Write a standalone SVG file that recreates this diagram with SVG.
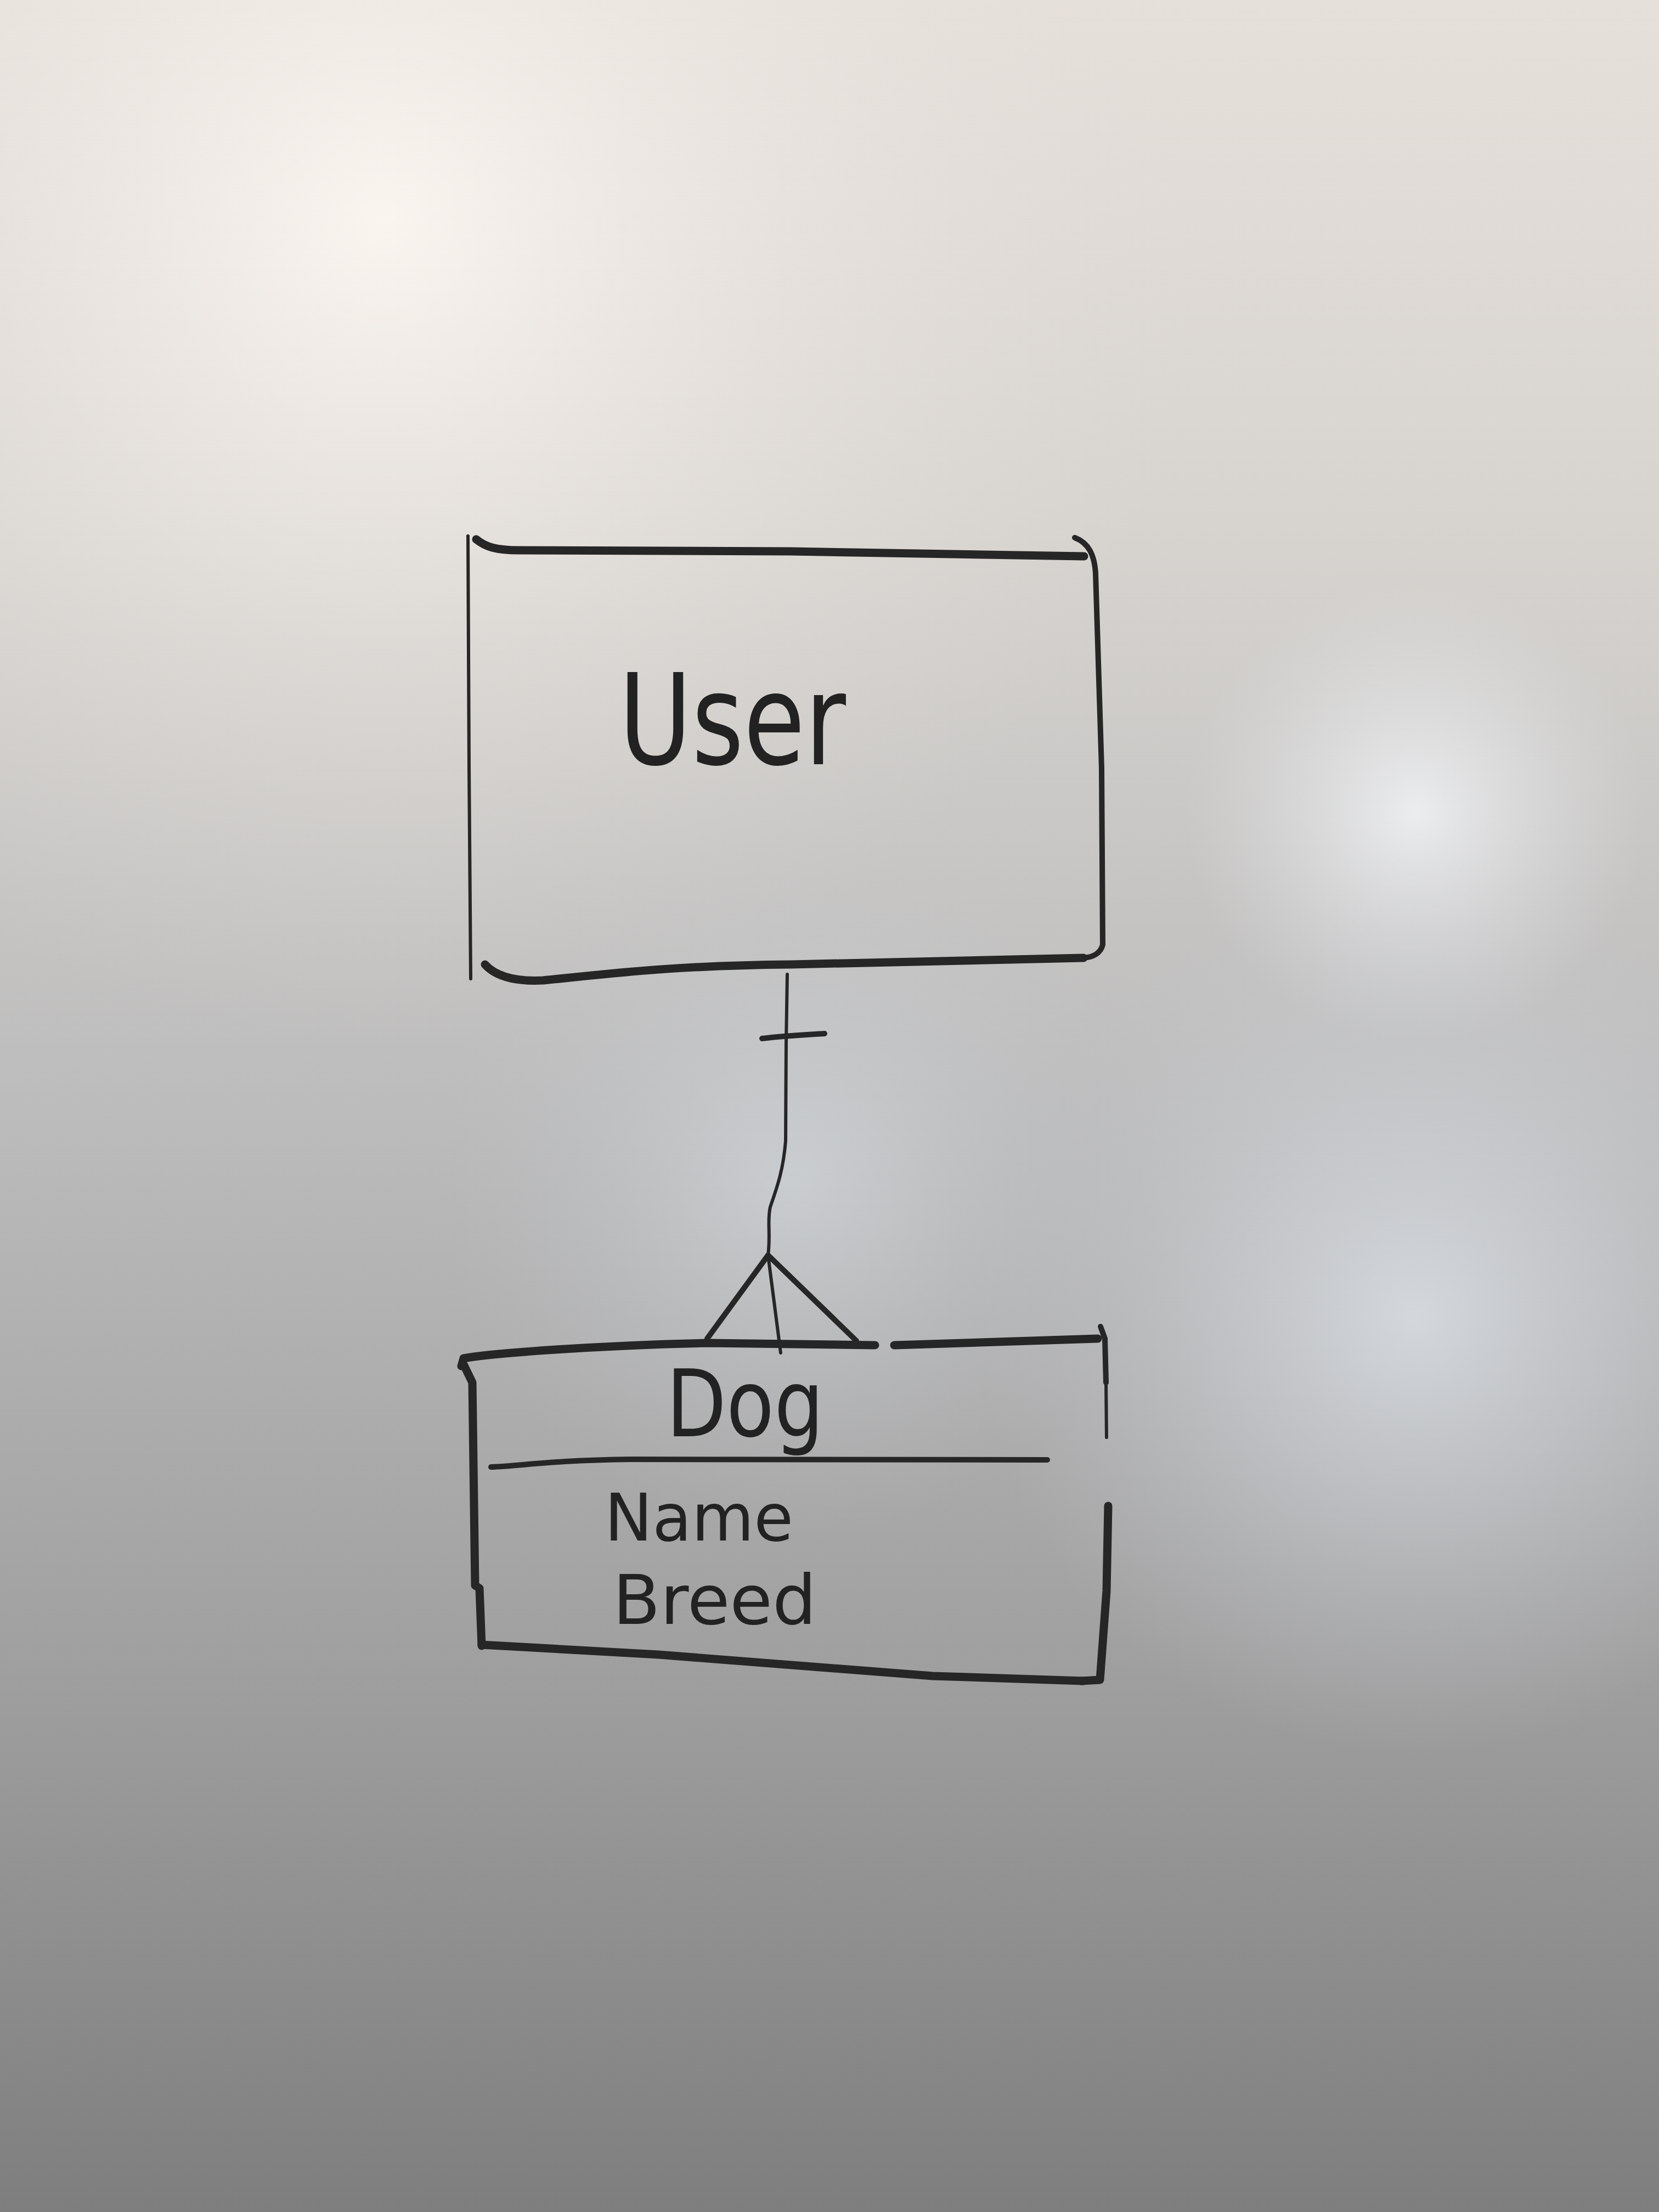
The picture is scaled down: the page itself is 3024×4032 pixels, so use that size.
<svg xmlns="http://www.w3.org/2000/svg" width="3024" height="4032" viewBox="0 0 3024 4032">
<style>
.edge{fill:none;stroke:#262626;stroke-linecap:round;stroke-linejoin:round}
.thick{stroke-width:15}
.mid{stroke-width:10}
.thin{stroke-width:6}
.hand{font-family:"DejaVu Sans","Liberation Sans",sans-serif;fill:#222}
</style>
<defs>
<linearGradient id="bg" x1="0" y1="0" x2="0" y2="1">
<stop offset="0" stop-color="#e6e0da"/>
<stop offset="0.25" stop-color="#d6d3cf"/>
<stop offset="0.5" stop-color="#bcbcbc"/>
<stop offset="0.75" stop-color="#a0a0a0"/>
<stop offset="1" stop-color="#7e7e7e"/>
</linearGradient>
<radialGradient id="warm" cx="700" cy="400" r="1500" gradientUnits="userSpaceOnUse">
<stop offset="0" stop-color="#fbf6f0" stop-opacity="0.95"/>
<stop offset="0.5" stop-color="#f0ebe6" stop-opacity="0.4"/>
<stop offset="1" stop-color="#e0dcd8" stop-opacity="0"/>
</radialGradient>
<radialGradient id="glare1" cx="2580" cy="1480" r="420" gradientUnits="userSpaceOnUse">
<stop offset="0" stop-color="#f4f6f8" stop-opacity="0.8"/>
<stop offset="1" stop-color="#e0e4e8" stop-opacity="0"/>
</radialGradient>
<radialGradient id="glare2" cx="2580" cy="2400" r="800" gradientUnits="userSpaceOnUse">
<stop offset="0" stop-color="#dfe4ea" stop-opacity="0.75"/>
<stop offset="1" stop-color="#c8ccd2" stop-opacity="0"/>
</radialGradient>
<radialGradient id="glare3" cx="1450" cy="2150" r="650" gradientUnits="userSpaceOnUse">
<stop offset="0" stop-color="#d6dbe0" stop-opacity="0.6"/>
<stop offset="1" stop-color="#c0c4c8" stop-opacity="0"/>
</radialGradient>
</defs>
<rect x="0" y="0" width="3024" height="4032" fill="url(#bg)"/>
<rect x="0" y="0" width="3024" height="4032" fill="url(#warm)"/>
<rect x="0" y="0" width="3024" height="4032" fill="url(#glare2)"/>
<rect x="0" y="0" width="3024" height="4032" fill="url(#glare1)"/>
<rect x="0" y="0" width="3024" height="4032" fill="url(#glare3)"/>

<g id="node-user">
<path class="edge thick" d="M868,983 C885,997 905,1003 945,1003 L1442,1005 L1976,1014"/>
<path class="edge mid" d="M1959,980 C1985,990 1995,1012 1997,1045 L2008,1400 L2010,1722 C2006,1738 1992,1745 1975,1746"/>
<path class="edge thick" d="M884,1758 C900,1776 932,1790 990,1787 C1100,1776 1220,1760 1442,1758 L1975,1746"/>
<path class="edge thin" d="M853,977 L855,1400 L858,1784"/>
<text class="hand" x="1335" y="1393" font-size="230" text-anchor="middle" textLength="414" lengthAdjust="spacingAndGlyphs">User</text>
</g>

<g id="node-dog">
<path class="edge thick" d="M841,2490 L845,2476 C900,2466 1100,2452 1289,2448 L1595,2452 M1630,2452 L2001,2440"/>
<path class="edge mid" d="M2006,2418 L2014,2440 L2016,2520"/>
<path class="edge thin" d="M2016,2520 L2017,2620"/>
<path class="edge thick" d="M2020,2745 L2017,2900 L2005,3062 L1970,3064"/>
<path class="edge thick" d="M845,2487 L861,2520 L866,2890 L874,2895 L878,3000"/>
<path class="edge thick" d="M878,2998 L1200,3016 L1700,3055 L1975,3064"/>
<path class="edge mid" d="M895,2674 C950,2672 1000,2662 1150,2660 L1909,2661"/>
<text class="hand" x="1358" y="2618" font-size="170" text-anchor="middle" textLength="287" lengthAdjust="spacingAndGlyphs">Dog</text>
<text class="hand" x="1102" y="2808" font-size="120" textLength="344" lengthAdjust="spacingAndGlyphs">Name</text>
<text class="hand" x="1117" y="2960" font-size="125" textLength="371" lengthAdjust="spacingAndGlyphs">Breed</text>
</g>

<g id="connectors">
<path class="edge thin" d="M1435,1776 L1433,1900 L1432,2080 C1428,2130 1418,2160 1404,2200 C1398,2225 1405,2250 1400,2288"/>
<path class="edge mid" d="M1389,1893 C1430,1888 1470,1886 1503,1884"/>
<path class="edge mid" d="M1400,2288 L1289,2440"/>
<path class="edge thin" d="M1400,2288 L1423,2466"/>
<path class="edge mid" d="M1400,2288 L1561,2444"/>
</g>
</svg>
